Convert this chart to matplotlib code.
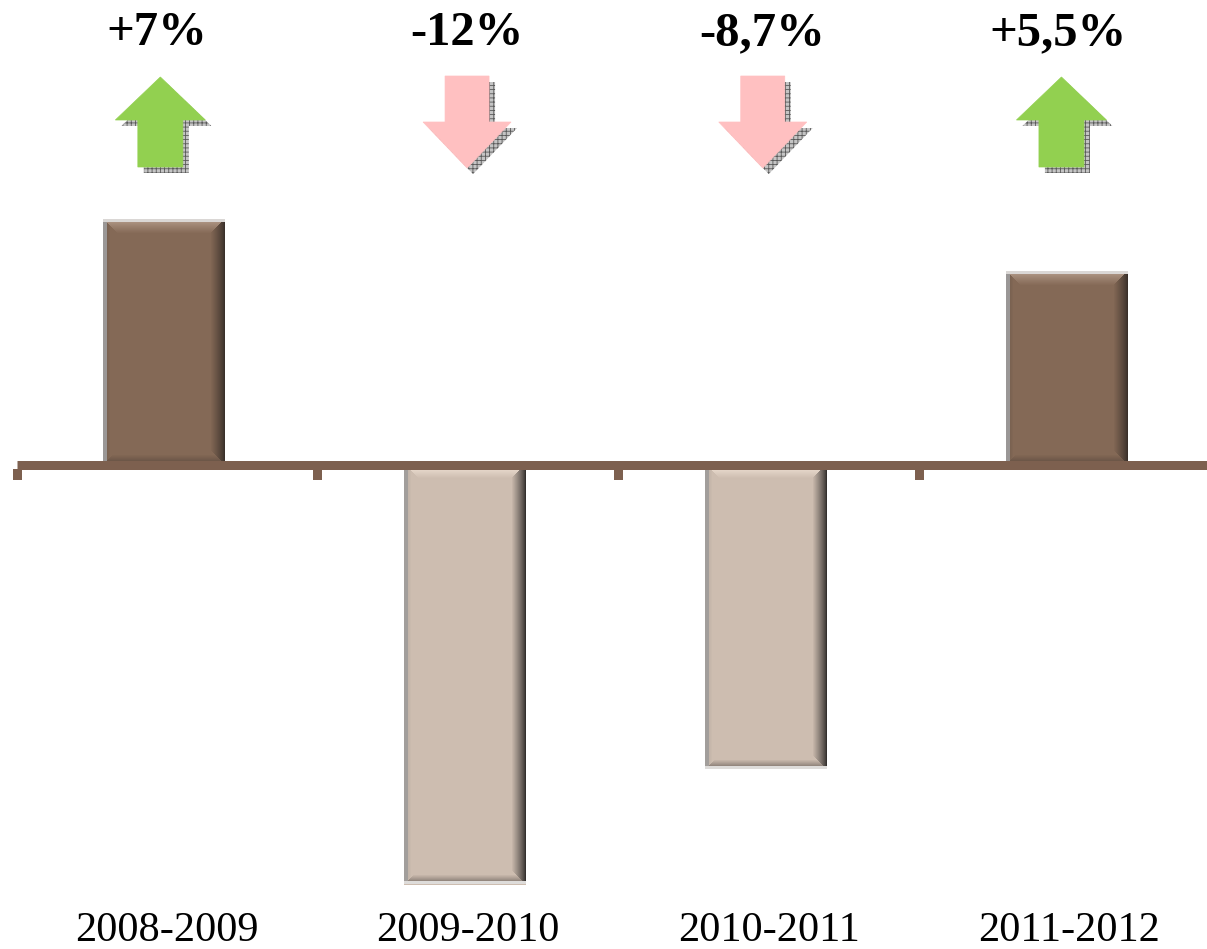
import numpy as np
import matplotlib
matplotlib.use("Agg")
import matplotlib.pyplot as plt
from matplotlib.patches import Polygon
from matplotlib.colors import to_rgb

# ---------------- data ----------------
periods = ["2008-2009", "2009-2010", "2010-2011", "2011-2012"]
changes = [7.0, -12.0, -8.7, 5.5]
change_labels = ["+7%", "-12%", "-8,7%", "+5,5%"]

# ---------------- layout ----------------
W, H, DPI = 1207, 949, 100
AX_L_PX = 17.0
CAT_PX = 300.7
BASE_PX = 464.5          # y pixel (from top) of zero line
PX_PER_UNIT = 35.0
BAR_W = 0.405

arrow_dx_px = [-7, -1, -6, -8]
label_dx_px = [-11, -1, -7, -12]

plt.rcParams["hatch.linewidth"] = 0.6
fig = plt.figure(figsize=(W / DPI, H / DPI), dpi=DPI)
ax_w_px = 4 * CAT_PX
ax = fig.add_axes([AX_L_PX / W, 0, ax_w_px / W, 1])
ymax = BASE_PX / PX_PER_UNIT
ymin = -(H - BASE_PX) / PX_PER_UNIT
xlim = (-0.5, 3.5)
ax.set_xlim(*xlim)
ax.set_ylim(ymin, ymax)

dx = lambda p: p / CAT_PX
dy = lambda p: p / PX_PER_UNIT

dark_face = "#846956"
light_face = "#CDBDB0"
x = np.arange(len(periods))
colors = [dark_face if v > 0 else light_face for v in changes]
bars = ax.bar(x - dx(3), changes, width=BAR_W, color=colors, linewidth=0, zorder=2)


def mix(c1, c2, t):
    c1 = np.array(to_rgb(c1)); c2 = np.array(to_rgb(c2))
    return c1 * (1 - t) + c2 * t


def bevel_image(wpx, hpx, face, top, bottom, left, right, left_grey, far_line, far_top):
    img = np.zeros((hpx, wpx, 3))
    spec = {"t": (top, 14.0), "b": (bottom, 9.0), "l": (left, 7.0), "r": (right, 14.0)}
    for r in range(hpx):
        for c in range(wpx):
            d = {"l": c, "r": wpx - 1 - c, "t": r, "b": hpx - 1 - r}
            side = min(d, key=d.get)
            col, wd = spec[side]
            t = min(d[side] / wd, 1.0)
            img[r, c] = mix(col, face, t ** 0.8)
            if c < 4:
                img[r, c] = to_rgb(left_grey)
    if far_top:
        img[0:3, :] = to_rgb(far_line)
    else:
        img[-3:, :] = to_rgb(far_line)
    return img


for b, v in zip(bars, changes):
    x0, y0 = b.get_x(), b.get_y()
    bw, bh = b.get_width(), b.get_height()
    y_lo, y_hi = min(y0, y0 + bh), max(y0, y0 + bh)
    wpx = int(round(bw * CAT_PX))
    hpx = int(round((y_hi - y_lo) * PX_PER_UNIT))
    if v > 0:
        img = bevel_image(wpx, hpx, dark_face, "#B9A190", "#5E4B3F", "#6A5649",
                          "#3A302A", "#9A9796", "#DAD7D5", True)
    else:
        img = bevel_image(wpx, hpx, light_face, "#FBEDE0", "#6C625B", "#B3A79D",
                          "#34302E", "#A29E9B", "#DEDCDA", False)
    ax.imshow(img, extent=(x0, x0 + bw, y_lo, y_hi), origin="upper",
              aspect="auto", interpolation="nearest", zorder=3)

ax.set_xlim(*xlim)
ax.set_ylim(ymin, ymax)

# axis line and ticks
axis_col = "#7D604F"
ax.axhline(0, color=axis_col, lw=9 * 72 / DPI, solid_capstyle="butt", zorder=4)
for xb in np.arange(-0.5, len(periods), 1.0):
    ax.add_patch(plt.Rectangle((xb - dx(4.5), dy(-4.5)), dx(9), dy(-11),
                               facecolor=axis_col, lw=0, zorder=4, clip_on=False))

for s in ax.spines.values():
    s.set_visible(False)
ax.set_xticks([]); ax.set_yticks([])

# category labels
for xi, lab in zip(x, periods):
    ax.text(xi, dy(BASE_PX - 941), lab, ha="center", va="baseline",
            fontsize=30.5, family="Liberation Serif", color="black")

# arrows and change labels
green, pink = "#92D050", "#FFC0C1"
for xi, v, lab, adx, ldx in zip(x, changes, change_labels, arrow_dx_px, label_dx_px):
    cx = xi + dx(adx)
    if v > 0:
        pts_px = [(0, 77), (45, 120), (22.5, 120), (22.5, 167), (-22.5, 167),
                  (-22.5, 120), (-45, 120)]
        fc = green
    else:
        pts_px = [(0, 168), (44, 122), (22, 122), (22, 76), (-22, 76),
                  (-22, 122), (-44, 122)]
        fc = pink
    pts = [(cx + dx(px), dy(BASE_PX - py)) for px, py in pts_px]
    shadow = [(px_ + dx(6), py_ - dy(6)) for px_, py_ in pts]
    ax.add_patch(Polygon(shadow, closed=True, facecolor="#C4C4C4", edgecolor="#5A5A5A",
                         hatch="++++", lw=0, zorder=5))
    ax.add_patch(Polygon(pts, closed=True, facecolor=fc, edgecolor=fc, lw=0.5, zorder=6))
    ax.text(xi + dx(ldx), dy(BASE_PX - 45), lab, ha="center", va="baseline",
            fontsize=35, fontweight="bold", family="Liberation Serif", color="black")

fig.savefig("out.png", dpi=DPI)
